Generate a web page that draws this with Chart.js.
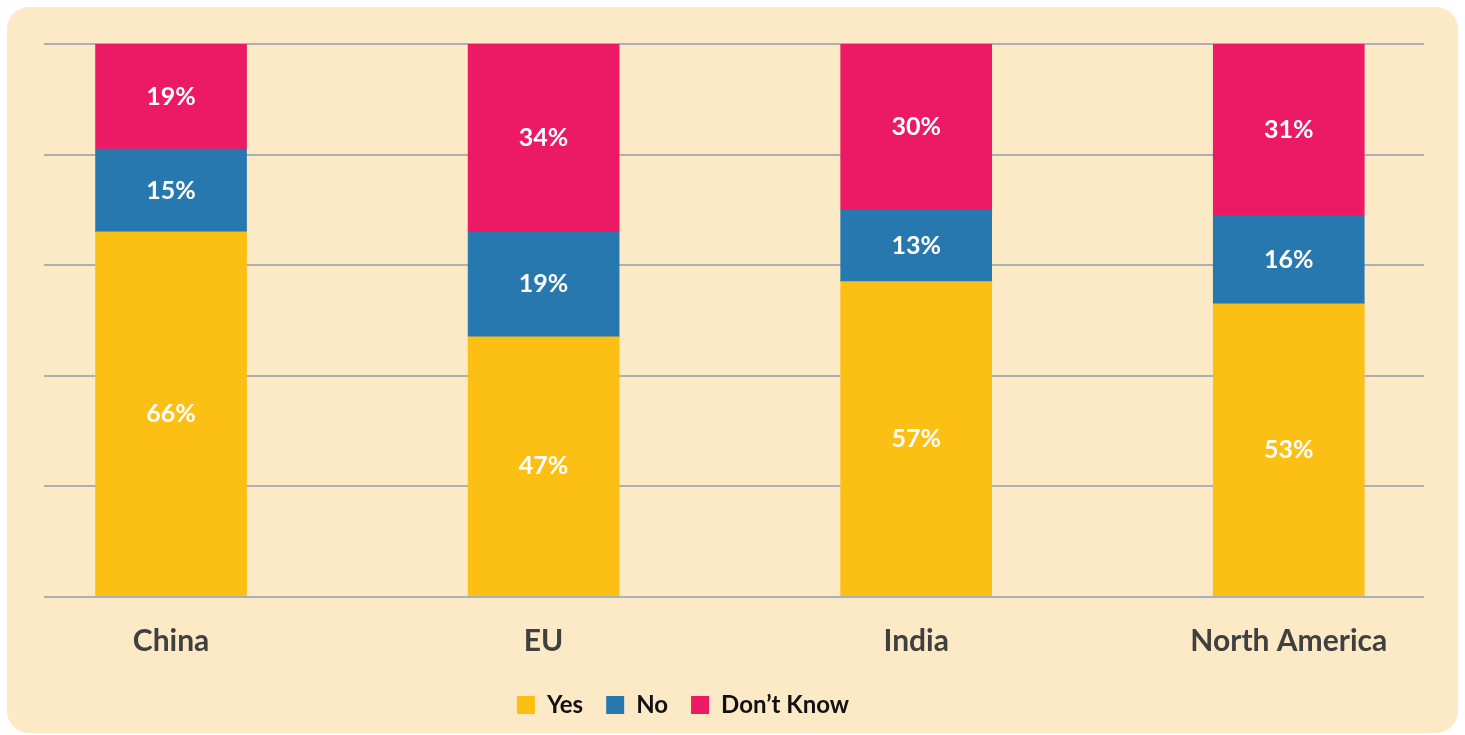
<!DOCTYPE html>
<html>
<head>
<meta charset="utf-8">
<script src="https://cdn.jsdelivr.net/npm/chart.js@4"></script>
<style>
  html, body { margin: 0; padding: 0; background: #ffffff; }
  #wrap { position: relative; width: 1465px; height: 735px; }
  #panel {
    position: absolute; left: 7px; top: 7px; width: 1451px; height: 726px;
    background: #fce9c6; border-radius: 22px;
  }
  #chart { position: absolute; left: 0; top: 0; }
</style>
</head>
<body>
<div id="wrap">
  <div id="panel"></div>
  <canvas id="chart" width="1465" height="735"></canvas>
</div>
<script>
var regions = ['China', 'EU', 'India', 'North America'];
var yesValues = [66, 47, 57, 53];
var noValues = [15, 19, 13, 16];
var dontKnowValues = [19, 34, 30, 31];
var seriesNames = ['Yes', 'No', 'Don\u2019t Know'];
var seriesColors = ['#fcbf14', '#2878b0', '#ec1965'];

function toPoints(values) {
  return values.map(function (v, i) { return { x: i, y: v }; });
}

var FONT = 'Lato, "Open Sans", sans-serif';

var segmentLabels = {
  id: 'segmentLabels',
  afterDatasetsDraw: function (chart) {
    var ctx = chart.ctx;
    ctx.save();
    ctx.fillStyle = '#ffffff';
    ctx.font = 'bold 25px ' + FONT;
    ctx.textAlign = 'center';
    ctx.textBaseline = 'middle';
    chart.data.datasets.forEach(function (ds, di) {
      var meta = chart.getDatasetMeta(di);
      meta.data.forEach(function (bar, i) {
        var v = ds.data[i].y;
        ctx.fillText(v + '%', bar.x, (bar.y + bar.base) / 2);
      });
    });
    ctx.restore();
  }
};

// the legend sits a little left of the page centre in the original
var legendShift = {
  id: 'legendShift',
  afterLayout: function (chart) {
    if (chart.legend) {
      chart.legend.left -= 51;
      chart.legend.right -= 51;
    }
  }
};

new Chart(document.getElementById('chart'), {
  type: 'bar',
  data: {
    datasets: [
      { label: seriesNames[0], data: toPoints(yesValues), backgroundColor: seriesColors[0] },
      { label: seriesNames[1], data: toPoints(noValues), backgroundColor: seriesColors[1] },
      { label: seriesNames[2], data: toPoints(dontKnowValues), backgroundColor: seriesColors[2] }
    ]
  },
  options: {
    responsive: false,
    animation: false,
    barThickness: 151,
    layout: { padding: { left: 44, right: 41, top: 44, bottom: 8 } },
    plugins: {
      tooltip: { enabled: false },
      legend: {
        position: 'bottom',
        labels: {
          boxWidth: 18,
          boxHeight: 18,
          padding: 23,
          color: '#111111',
          font: { family: FONT, size: 24, weight: 'bold' }
        }
      }
    },
    scales: {
      x: {
        type: 'linear',
        offset: false,
        stacked: true,
        min: -0.341,
        max: 3.363,
        afterBuildTicks: function (scale) {
          scale.ticks = regions.map(function (_, i) { return { value: i }; });
        },
        afterFit: function (scale) {
          scale.height -= 9;
        },
        ticks: {
          padding: 27,
          color: '#404040',
          font: { family: FONT, size: 30, weight: 'bold', lineHeight: 0.68 },
          callback: function (value) { return regions[value]; }
        },
        grid: { display: false },
        border: { display: false }
      },
      y: {
        stacked: true,
        min: 0,
        max: 100,
        ticks: { display: false, stepSize: 20 },
        grid: { color: '#aab0b6', lineWidth: 2, drawTicks: false },
        border: { display: false }
      }
    }
  },
  plugins: [segmentLabels, legendShift]
});
</script>
</body>
</html>
